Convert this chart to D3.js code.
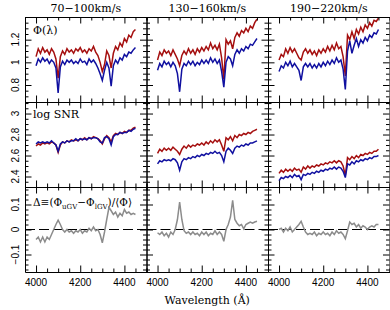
<!DOCTYPE html>
<html>
<head>
<meta charset="utf-8">
<script src="https://cdn.jsdelivr.net/npm/d3@7"></script>
<style>
  body { margin: 0; background: #fff; }
  svg { display: block; }
  .axis path, .axis line { stroke: #000; stroke-width: 1; }
  .serif { font-family: "DejaVu Serif", serif; fill: #000; }
  .num { font-family: "Liberation Sans", Arial, sans-serif; font-size: 10px; fill: #000; }
</style>
</head>
<body>
<div id="hook"></div>
<script>
// wavelength grid (Angstrom)
var lambda = [4000,4010,4020,4030,4040,4050,4060,4070,4080,4090,
              4100,4110,4120,4130,4140,4150,4160,4170,4180,4190,
              4200,4210,4220,4230,4240,4250,4260,4270,4280,4290,
              4300,4310,4320,4330,4340,4350,4360,4370,4380,4390,
              4400,4410,4420,4430,4440,4450];

var velBins = ["70\u2212100km/s", "130\u2212160km/s", "190\u2212220km/s"];

// Phi(lambda), uGV (red) and lGV (blue)
var phiRed70  = [1.05,1.12,1.08,1.13,1.09,1.11,1.07,1.12,1.09,1.03,0.86,1.05,1.10,1.07,1.12,1.09,1.11,1.08,1.12,1.10,
                 1.13,1.09,1.11,1.08,1.12,1.10,1.14,1.09,1.06,1.00,0.92,0.98,1.10,1.06,0.95,1.08,1.14,1.11,1.17,1.14,
                 1.21,1.18,1.24,1.22,1.27,1.29];
var phiBlue70 = [0.97,1.03,1.00,1.04,1.01,1.03,0.99,1.02,1.00,0.95,0.73,0.96,1.01,0.98,1.02,1.00,1.02,0.99,1.01,0.99,
                 1.03,1.00,1.01,0.98,1.03,1.00,1.02,0.99,0.95,0.90,0.84,0.93,1.00,0.95,0.79,0.97,1.02,0.99,1.04,1.02,
                 1.07,1.05,1.09,1.08,1.11,1.13];
var phiRed130  = [1.02,1.09,1.06,1.11,1.08,1.10,1.06,1.11,1.07,1.03,0.97,1.06,1.10,1.07,1.12,1.08,1.11,1.07,1.12,1.09,
                  1.13,1.10,1.14,1.11,1.17,1.12,1.15,1.11,1.16,1.04,0.85,1.20,1.16,1.19,1.12,1.22,1.26,1.23,1.28,1.26,
                  1.30,1.27,1.32,1.30,1.35,1.38];
var phiBlue130 = [0.93,0.99,0.96,1.01,0.98,1.00,0.96,1.00,0.97,0.90,0.74,0.94,0.99,0.97,1.01,0.98,1.01,0.97,1.00,0.98,
                  1.02,0.99,1.02,0.99,1.04,1.00,1.03,0.99,1.02,0.92,0.78,1.00,1.05,1.03,0.97,1.07,1.11,1.08,1.12,1.10,
                  1.14,1.12,1.16,1.15,1.18,1.21];
var phiRed190  = [1.02,1.07,1.05,1.12,1.08,1.13,1.09,1.12,1.08,1.04,1.02,1.09,1.12,1.08,1.11,1.07,1.10,1.06,1.11,1.08,
                  1.12,1.09,1.14,1.10,1.15,1.11,1.17,1.12,1.14,1.05,0.88,1.24,1.20,1.27,1.21,1.29,1.25,1.31,1.27,1.33,
                  1.30,1.35,1.32,1.37,1.36,1.39];
var phiBlue190 = [0.92,0.97,0.95,1.00,0.97,1.01,0.96,0.99,0.96,0.93,0.84,0.96,0.99,0.96,0.99,0.95,0.98,0.95,0.99,0.96,
                  1.00,0.97,1.01,0.98,1.02,0.99,1.04,1.00,1.02,0.94,0.76,1.10,1.19,1.08,1.15,1.21,1.14,1.20,1.17,1.22,
                  1.19,1.24,1.22,1.26,1.25,1.29];

// log SNR
var snrRed70  = [2.69,2.71,2.70,2.72,2.71,2.72,2.71,2.73,2.72,2.70,2.63,2.70,2.73,2.72,2.74,2.73,2.75,2.74,2.75,2.74,
                 2.76,2.75,2.77,2.75,2.77,2.76,2.78,2.77,2.76,2.74,2.71,2.76,2.79,2.77,2.73,2.79,2.81,2.80,2.82,2.81,
                 2.83,2.82,2.84,2.84,2.86,2.87];
var snrBlue70 = [2.71,2.73,2.72,2.73,2.72,2.73,2.72,2.74,2.72,2.70,2.64,2.71,2.73,2.72,2.74,2.73,2.74,2.74,2.76,2.74,
                 2.76,2.75,2.76,2.75,2.77,2.76,2.77,2.77,2.76,2.73,2.72,2.77,2.78,2.76,2.70,2.78,2.80,2.80,2.82,2.81,
                 2.82,2.82,2.84,2.83,2.85,2.86];
var snrRed130  = [2.62,2.66,2.64,2.67,2.65,2.67,2.65,2.68,2.66,2.64,2.61,2.66,2.69,2.67,2.70,2.68,2.70,2.69,2.71,2.70,
                  2.72,2.70,2.73,2.71,2.74,2.72,2.75,2.73,2.75,2.70,2.64,2.77,2.75,2.78,2.74,2.79,2.77,2.80,2.79,2.81,
                  2.80,2.82,2.81,2.83,2.84,2.85];
var snrBlue130 = [2.52,2.55,2.54,2.56,2.55,2.56,2.55,2.57,2.56,2.53,2.46,2.54,2.57,2.56,2.58,2.57,2.59,2.58,2.60,2.59,
                  2.61,2.60,2.62,2.61,2.63,2.62,2.64,2.62,2.63,2.60,2.54,2.64,2.67,2.65,2.62,2.67,2.69,2.68,2.70,2.69,
                  2.71,2.70,2.72,2.72,2.73,2.74];
var snrRed190  = [2.43,2.46,2.44,2.47,2.45,2.47,2.45,2.48,2.46,2.47,2.44,2.49,2.47,2.50,2.48,2.50,2.49,2.51,2.50,2.52,
                  2.51,2.53,2.52,2.54,2.53,2.55,2.53,2.55,2.54,2.50,2.41,2.58,2.56,2.59,2.57,2.60,2.58,2.61,2.60,2.62,
                  2.61,2.63,2.62,2.64,2.64,2.66];
var snrBlue190 = [2.36,2.39,2.38,2.40,2.39,2.41,2.39,2.42,2.40,2.41,2.37,2.42,2.41,2.43,2.42,2.44,2.43,2.45,2.44,2.46,
                  2.45,2.47,2.46,2.48,2.47,2.49,2.47,2.49,2.48,2.45,2.39,2.52,2.51,2.54,2.52,2.55,2.54,2.56,2.55,2.57,
                  2.56,2.58,2.57,2.59,2.59,2.60];

// Delta = (Phi_uGV - Phi_lGV) / <Phi>
var delta70  = [-0.040,-0.030,-0.050,-0.030,-0.050,-0.030,-0.040,-0.020,0.000,0.020,0.037,0.020,0.000,-0.010,0.000,-0.010,-0.005,-0.015,-0.005,-0.010,
                0.000,-0.015,-0.005,-0.010,0.005,-0.005,0.010,-0.005,0.000,-0.020,-0.053,-0.010,0.040,0.088,0.075,0.060,0.070,0.050,0.065,0.055,
                0.080,0.065,0.070,0.060,0.065,0.060];
var delta130 = [-0.013,-0.020,-0.010,-0.025,-0.015,-0.030,-0.010,-0.020,0.000,0.040,0.110,0.040,-0.005,-0.015,-0.010,-0.020,-0.010,-0.020,-0.015,-0.025,
                -0.010,-0.020,-0.010,-0.025,-0.015,-0.020,-0.005,-0.020,-0.010,-0.020,-0.047,0.000,0.020,0.050,0.117,0.040,0.025,0.015,0.020,0.003,
                0.020,0.025,0.030,0.025,0.030,0.033];
var delta190 = [0.000,0.005,-0.010,0.005,-0.005,0.010,-0.010,0.000,0.010,0.020,0.033,0.010,-0.010,-0.020,-0.015,-0.020,-0.010,-0.025,-0.015,-0.020,
                -0.010,-0.020,-0.015,-0.025,-0.010,-0.020,-0.005,-0.015,-0.010,-0.020,-0.037,-0.005,0.030,0.020,0.025,0.010,0.020,0.005,0.015,0.010,
                0.000,0.010,0.015,0.010,0.020,0.020];

// tick values
var xMajor = [4000, 4200, 4400];
var xMinor = [3950, 4050, 4100, 4150, 4250, 4300, 4350, 4450, 4500];
var phiTicks = [0.8, 1, 1.2, 1.4];
var snrTicks = [2.4, 2.6, 2.8, 3];
var deltaTicks = [-0.1, 0, 0.1];

var margin = {left: 25, top: 17};
var panelW = 121.5, panelH = 85;

var rows = [
  { domain: [0.65, 1.4], major: phiTicks, minorStep: 0.05, labels: [0.8, 1, 1.2], name: "\u03a6(\u03bb)",
    series: [[phiRed70, phiBlue70], [phiRed130, phiBlue130], [phiRed190, phiBlue190]] },
  { domain: [2.3, 3.11], major: snrTicks, minorStep: 0.05, labels: [2.4, 2.6, 2.8, 3], name: "log SNR",
    series: [[snrRed70, snrBlue70], [snrRed130, snrBlue130], [snrRed190, snrBlue190]] },
  { domain: [-0.17, 0.17], major: deltaTicks, minorStep: 0.02, labels: [-0.1, 0, 0.1], name: null,
    series: [[delta70], [delta130], [delta190]] }
];
var colors = ["#a50f0f", "#1010a0"];

var svg = d3.select("#hook").append("svg").attr("width", 390).attr("height", 310);

var x = d3.scaleLinear().domain([3950, 4500]).range([0, panelW]);
var fmtY = function(d) { return d3.format("")(d).replace("-", "\u2212"); };

rows.forEach(function(row, r) {
  var y = d3.scaleLinear().domain(row.domain).range([panelH, 0]);
  var minor = d3.range(Math.ceil(row.domain[0] / row.minorStep), Math.floor(row.domain[1] / row.minorStep) + 1)
                .map(function(i) { return +(i * row.minorStep).toFixed(3); })
                .filter(function(v) { return row.major.indexOf(v) < 0; });

  velBins.forEach(function(bin, c) {
    var g = svg.append("g").attr("transform", "translate(" + (margin.left + c * panelW) + "," + (margin.top + r * panelH) + ")");

    var line = d3.line().x(function(d, i) { return x(lambda[i]); }).y(function(d) { return y(d); });

    if (r == 2) {
      g.append("line").attr("x1", 0).attr("x2", panelW).attr("y1", y(0)).attr("y2", y(0))
        .attr("stroke", "#000").attr("stroke-width", 1).attr("stroke-dasharray", "10,4");
      g.append("path").datum(row.series[c][0]).attr("d", line)
        .attr("fill", "none").attr("stroke", "#8c8c8c").attr("stroke-width", 1.5);
    } else {
      row.series[c].forEach(function(s, k) {
        g.append("path").datum(s).attr("d", line)
          .attr("fill", "none").attr("stroke", colors[k]).attr("stroke-width", 1.5);
      });
    }

    // ticks, all pointing inward
    var ax = [
      [d3.axisBottom(x), "translate(0," + panelH + ")", xMajor, xMinor],
      [d3.axisTop(x), null, xMajor, xMinor],
      [d3.axisLeft(y), null, row.major, minor],
      [d3.axisRight(y), "translate(" + panelW + ",0)", row.major, minor]
    ];
    ax.forEach(function(a) {
      var gm = g.append("g").attr("class", "axis").attr("transform", a[1]);
      gm.call(a[0].tickValues(a[3]).tickSize(-3.5).tickSizeOuter(0).tickFormat(""));
      gm.select(".domain").remove();
      var gM = g.append("g").attr("class", "axis").attr("transform", a[1]);
      gM.call(a[0].tickValues(a[2]).tickSize(-6.5).tickSizeOuter(0).tickFormat(""));
    });

    if (r == 0) {
      svg.append("text").attr("class", "serif").attr("font-size", 11)
        .attr("x", margin.left + c * panelW + panelW / 2).attr("y", 12)
        .attr("text-anchor", "middle").text(bin);
    }
    if (r == 2) {
      g.selectAll(".xl").data(xMajor).enter().append("text").attr("class", "num")
        .attr("x", function(d) { return x(d); }).attr("y", panelH + 14)
        .attr("text-anchor", "middle").text(function(d) { return d; });
    }
    if (c == 0) {
      g.selectAll(".yl").data(row.labels).enter().append("text").attr("class", "num")
        .attr("transform", function(d) { return "translate(-6.5," + y(d) + ") rotate(-90)"; })
        .attr("text-anchor", "middle").text(fmtY);
      if (row.name) {
        g.append("text").attr("class", "serif").attr("font-size", 11)
          .attr("x", 8).attr("y", r == 0 ? 17 : 16).text(row.name);
      } else {
        var t = g.append("text").attr("class", "serif").attr("font-size", 10.5).attr("x", 8).attr("y", 19);
        t.append("tspan").text("\u0394\u2261(\u03a6");
        t.append("tspan").attr("font-size", 7).attr("dy", 2.5).text("uGV");
        t.append("tspan").attr("dy", -2.5).text("\u2212\u03a6");
        t.append("tspan").attr("font-size", 7).attr("dy", 2.5).text("lGV");
        t.append("tspan").attr("dy", -2.5).text(")/\u27e8\u03a6\u27e9");
      }
    }
  });
});

svg.append("text").attr("class", "serif").attr("font-size", 11)
  .attr("x", margin.left + 1.5 * panelW).attr("y", 304)
  .attr("text-anchor", "middle").text("Wavelength (\u00c5)");
</script>
</body>
</html>
